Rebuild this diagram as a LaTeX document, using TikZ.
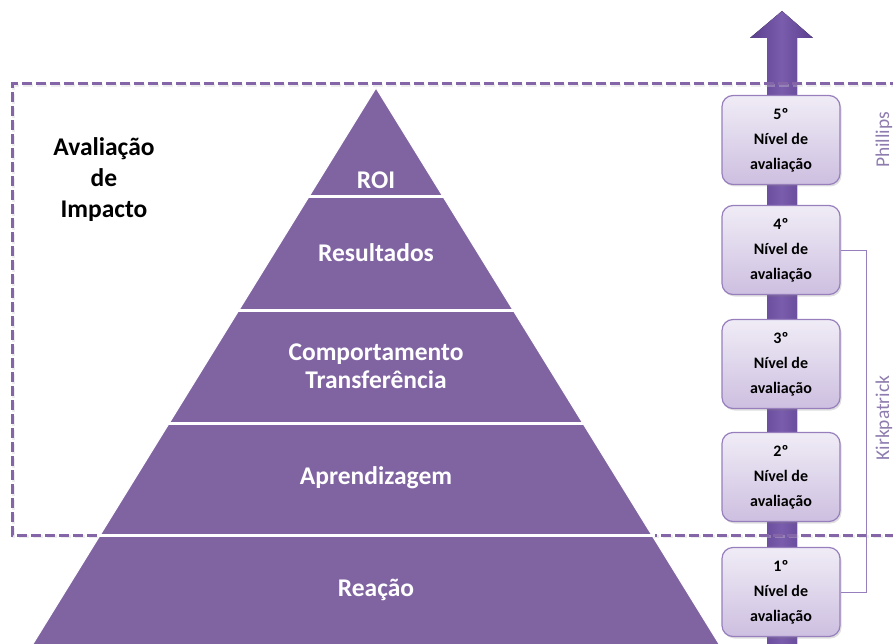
\documentclass[tikz,border=0pt]{standalone}
\usepackage{fontspec}
\setmainfont{Carlito}
\usetikzlibrary{shadows}
\definecolor{pyr}{HTML}{8064A2}
\definecolor{dash}{HTML}{8466A8}
\definecolor{arrowdark}{HTML}{5A3F8C}
\definecolor{arrowmid}{HTML}{7B5CAE}
\definecolor{boxtop}{HTML}{F0ECF6}
\definecolor{boxbot}{HTML}{CDBFE0}
\definecolor{boxline}{HTML}{977FBD}
\definecolor{sidelbl}{HTML}{8E7CAE}
\tikzset{
  pyrtext/.style={text=white, font=\fontsize{25.5}{28}\selectfont\bfseries, align=center},
  lefttext/.style={text=black, font=\fontsize{25.5}{31}\selectfont\bfseries, align=center},
  lvlbox/.style={draw=boxline, line width=1.2pt, rounded corners=11pt,
    top color=boxtop, bottom color=boxbot, minimum width=118pt, minimum height=89pt,
    align=center, font=\fontsize{16}{25}\selectfont\bfseries, text=black,
    drop shadow={shadow xshift=1.5pt, shadow yshift=-2pt, opacity=0.25}},
  sidelabel/.style={text=sidelbl, font=\fontsize{19.5}{21}\selectfont, rotate=90},
  bracket/.style={draw=boxline, line width=0.9pt},
  sep/.style={draw=white, line width=3pt},
  dashbox/.style={draw=dash, line width=3pt, dash pattern=on 10pt off 4pt}
}
\begin{document}
\begin{tikzpicture}[x=1pt,y=-1pt]
\useasboundingbox (0,0) rectangle (893,644);
\clip (0,0) rectangle (893,644);
% vertical arrow
\coordinate (atip) at (782,11);
\fill[left color=arrowdark, right color=arrowdark, middle color=arrowmid]
  (767,660) -- (767,38) -- (750,38) -- (atip) -- (813,38) -- (797,38) -- (797,660) -- cycle;
% dashed frame
\draw[black!20, line width=3pt, dash pattern=on 10pt off 4pt, opacity=0.35] (901,85.5) -- (13.5,85.5) -- (13.5,536.5) -- (901,536.5);
\draw[dashbox] (900,84) -- (12,84) -- (12,535) -- (900,535);
% pyramid
\fill[pyr, draw=white, line width=1pt] (376,88) -- (728.9,660) -- (23.1,660) -- cycle;
\draw[sep] (306,197) -- (446,197);
\draw[sep] (236,310) -- (516,310);
\draw[sep] (166,423) -- (586,423);
\draw[sep] (97,535) -- (655,535);
\node[pyrtext] (roi) at (376,180) {ROI};
\node[pyrtext] (res) at (376,253) {Resultados};
\node[pyrtext] (comp) at (376,366) {Comportamento\\Transferência};
\node[pyrtext] (apr) at (376,478) {Aprendizagem};
\node[pyrtext] (rea) at (376,590) {Reação};
% left label
\node[lefttext] (imp) at (104,180) {Avaliação\\de\\Impacto};
% level boxes
\node[lvlbox] (b5) at (781,140) {5º\\Nível de\\avaliação};
\node[lvlbox] (b4) at (781,250) {4º\\Nível de\\avaliação};
\node[lvlbox] (b3) at (781,364) {3º\\Nível de\\avaliação};
\node[lvlbox] (b2) at (781,477) {2º\\Nível de\\avaliação};
\node[lvlbox] (b1) at (781,592) {1º\\Nível de\\avaliação};
% bracket
\draw[bracket] (b4.east) -- ++(26,0) |- (b1.east);
% side labels
\node[sidelabel] (ph) at (884,140) {Phillips};
\node[sidelabel] (kp) at (884,418) {Kirkpatrick};
\end{tikzpicture}
\end{document}
